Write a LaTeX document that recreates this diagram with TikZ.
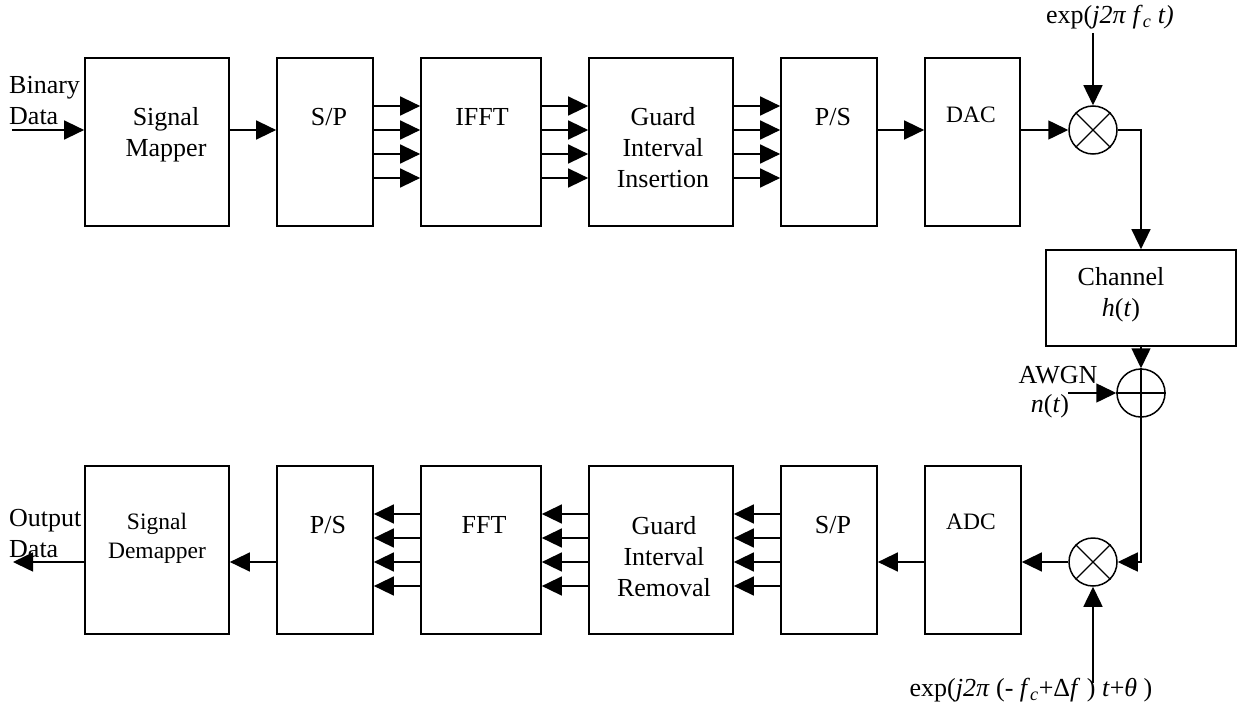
\documentclass[tikz,border=0pt]{standalone}
\usepackage{fontspec}
\setmainfont{Liberation Serif}
\usetikzlibrary{arrows.meta}
\begin{document}
\begin{tikzpicture}[x=1pt,y=-1pt,
  blk/.style={draw,line width=1.7pt,inner sep=0pt,minimum height=168pt},
  circ/.style={draw,circle,line width=1.5pt,inner sep=0pt,minimum size=48pt},
  arr/.style={line width=1.5pt,-{Triangle[length=20pt,width=19pt]}},
  ln/.style={line width=1.3pt},
  txt/.style={inner sep=0pt,align=center,font=\fontsize{26}{31}\selectfont},
  stxt/.style={inner sep=0pt,align=center,font=\fontsize{23.5}{29}\selectfont}]
\useasboundingbox (0,0) rectangle (1237,709);
% top row
\node[blk,minimum width=144pt] (sm) at (157,142) {};
\node[blk,minimum width=96pt] (sp1) at (325,142) {};
\node[blk,minimum width=120pt] (ifft) at (481,142) {};
\node[blk,minimum width=144pt] (gi) at (661,142) {};
\node[blk,minimum width=96pt] (ps1) at (829,142) {};
\node[blk,minimum width=95pt] (dac) at (972.5,142) {};
\node[circ] (mx1) at (1093,130) {};
\node[blk,minimum width=190pt,minimum height=96pt] (ch) at (1141,298) {};
\node[circ] (ad) at (1141,393) {};
% bottom row
\node[blk,minimum width=144pt] (sd) at (157,550) {};
\node[blk,minimum width=96pt] (ps2) at (325,550) {};
\node[blk,minimum width=120pt] (fft) at (481,550) {};
\node[blk,minimum width=144pt] (gr) at (661,550) {};
\node[blk,minimum width=96pt] (sp2) at (829,550) {};
\node[blk,minimum width=96pt] (adc) at (973,550) {};
\node[circ] (mx2) at (1093,562) {};
% circle symbols
\draw[ln] (mx1.north west) -- (mx1.south east) (mx1.north east) -- (mx1.south west);
\draw[ln] (mx2.north west) -- (mx2.south east) (mx2.north east) -- (mx2.south west);
\draw[ln] (ad.north) -- (ad.south) (ad.west) -- (ad.east);
% labels
\node[txt,anchor=west,align=left] (lbin) at (9,100.5) {Binary\\Data};
\node[txt] (lsm) at (166,135) {Signal\\Mapper};
\node[txt] (lsp1) at (329,117) {S/P};
\node[txt] (lifft) at (482,117) {IFFT};
\node[txt] (lgi) at (663,147.5) {Guard\\Interval\\Insertion};
\node[txt] (lps1) at (833,117) {P/S};
\node[stxt] (ldac) at (971,115) {DAC};
\node[txt] (lo1) at (1110,17) {exp(\textit{j2π} \textit{f}\textsubscript{\textit{c}} \textit{t)}};
\node[txt] (lch) at (1121,295) {Channel\\\textit{h}(\textit{t})};
\node[txt] (lawgn) at (1058,375) {AWGN};
\node[txt] (lnt) at (1050,406) {\textit{n}(\textit{t})};
\node[txt,anchor=west,align=left] (lout) at (9,533.5) {Output\\Data};
\node[stxt] (lsd) at (157,538) {Signal\\Demapper};
\node[txt] (lps2) at (328,525) {P/S};
\node[txt] (lfft) at (484,525) {FFT};
\node[txt] (lgr) at (664,557) {Guard\\Interval\\Removal};
\node[txt] (lsp2) at (833,525) {S/P};
\node[stxt] (ladc) at (971,522) {ADC};
\node[txt] (lo2) at (1031,690) {exp(\textit{j2π} (- \textit{f}\textsubscript{\textit{c}}+Δ\textit{f} ) \textit{t}+\textit{θ} )};
% coordinates of free ends
\coordinate (bin) at (12,130);
\coordinate (out) at (13,562);
\coordinate (t1) at (1093,33);
\coordinate (t2) at (1093,683);
\coordinate (aw) at (1068,393);
% top connectors
\draw[arr] (bin) -- (bin -| sm.west);
\draw[arr] ([yshift=12pt]sm.east) -- ([yshift=12pt]sp1.west);
\foreach \d in {36,12,-12,-36}{
  \draw[arr] ([yshift=\d pt]sp1.east) -- ([yshift=\d pt]ifft.west);
  \draw[arr] ([yshift=\d pt]ifft.east) -- ([yshift=\d pt]gi.west);
  \draw[arr] ([yshift=\d pt]gi.east) -- ([yshift=\d pt]ps1.west);
}
\draw[arr] ([yshift=12pt]ps1.east) -- ([yshift=12pt]dac.west);
\draw[arr] ([yshift=12pt]dac.east) -- (mx1.west);
\draw[arr] (t1) -- (mx1.north);
\draw[arr] (mx1.east) -| (ch.north);
\draw[arr] (ch.south) -- (ad.north);
\draw[arr] (aw) -- (ad.west);
% bottom connectors
\draw[arr] (ad.south) |- (mx2.east);
\draw[arr] (t2) -- (mx2.south);
\draw[arr] (mx2.west) -- ([yshift=-12pt]adc.east);
\draw[arr] ([yshift=-12pt]adc.west) -- ([yshift=-12pt]sp2.east);
\foreach \d in {36,12,-12,-36}{
  \draw[arr] ([yshift=\d pt]sp2.west) -- ([yshift=\d pt]gr.east);
  \draw[arr] ([yshift=\d pt]gr.west) -- ([yshift=\d pt]fft.east);
  \draw[arr] ([yshift=\d pt]fft.west) -- ([yshift=\d pt]ps2.east);
}
\draw[arr] ([yshift=-12pt]ps2.west) -- ([yshift=-12pt]sd.east);
\draw[arr] ([yshift=-12pt]sd.west) -- (out);
\end{tikzpicture}
\end{document}
